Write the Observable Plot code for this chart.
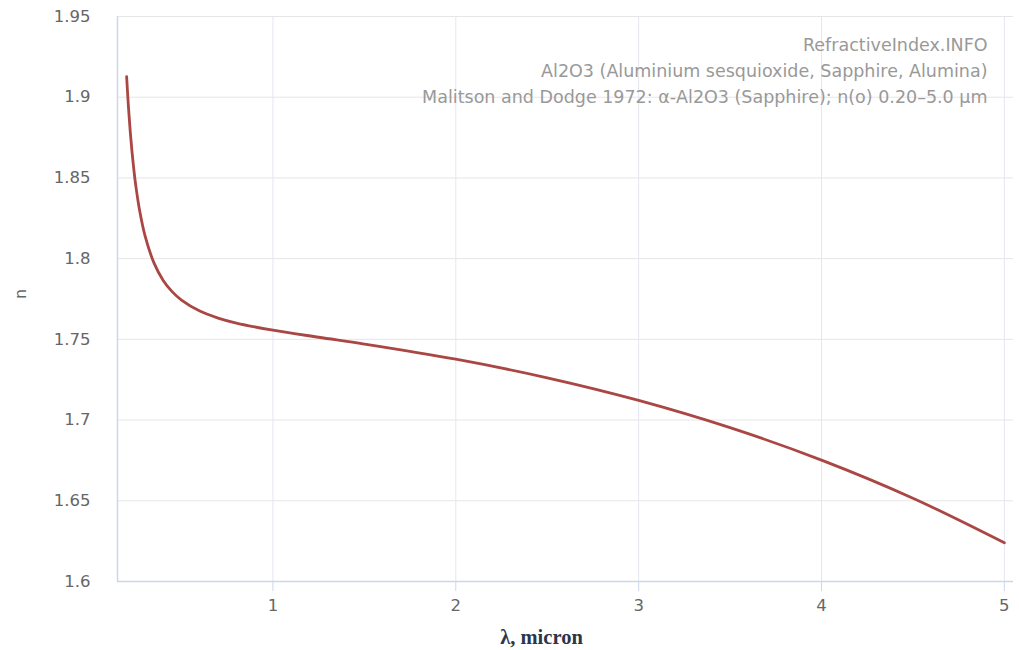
<!DOCTYPE html>
<html>
<head>
<meta charset="utf-8">
<script src="https://cdn.jsdelivr.net/npm/d3@7"></script>
<script src="https://cdn.jsdelivr.net/npm/@observablehq/plot@0.6"></script>
<style>
  html, body { margin: 0; padding: 0; background: #fff; }
  #chart svg { display: block; }
</style>
</head>
<body>
<div id="chart"></div>
<script>
// Ordinary refractive index of sapphire (α-Al2O3) versus wavelength
const wavelengths = [0.20, 0.21, 0.22, 0.23, 0.24, 0.25, 0.27, 0.30, 0.35, 0.40, 0.45, 0.50, 0.60, 0.70, 0.80,
                     1.00, 1.25, 1.50, 2.00, 2.50, 3.00, 3.50, 4.00, 4.50, 5.00];
const nValues = [1.9127, 1.8937, 1.8782, 1.8653, 1.8545, 1.8452, 1.8304, 1.8144, 1.7972, 1.7865, 1.7794, 1.7743, 1.7675, 1.7632, 1.7601,
                 1.7557, 1.7513, 1.7471, 1.7377, 1.7262, 1.7122, 1.6953, 1.6752, 1.6516, 1.6240];

const xDomain = [0.15, 5.05];
const yDomain = [1.6, 1.95];
const xTicks = [1, 2, 3, 4, 5];
const yTicks = [1.6, 1.65, 1.7, 1.75, 1.8, 1.85, 1.9, 1.95];
const yTickLabels = ["1.6", "1.65", "1.7", "1.75", "1.8", "1.85", "1.9", "1.95"];
const titleLines = [
  "RefractiveIndex.INFO",
  "Al2O3 (Aluminium sesquioxide, Sapphire, Alumina)",
  "Malitson and Dodge 1972: α-Al2O3 (Sapphire); n(o) 0.20–5.0 µm"
];
const xLabel = ["λ, micron"];
const yLabel = ["n"];

const data = wavelengths.map((w, i) => ({w, n: nValues[i]}));

const chart = Plot.plot({
  width: 1019,
  height: 650,
  marginLeft: 117,
  marginRight: 6,
  marginTop: 16,
  marginBottom: 69,
  style: {fontFamily: "DejaVu Sans", fontSize: "16px", background: "#fff"},
  x: {domain: xDomain},
  y: {domain: yDomain},
  marks: [
    Plot.gridY(yTicks, {stroke: "#e6e6e6", strokeOpacity: 1}),
    Plot.gridX(xTicks, {stroke: "#e3e7ef", strokeOpacity: 1}),
    Plot.ruleX([xDomain[0]], {stroke: "#ccd6eb", strokeWidth: 1.5}),
    Plot.ruleY([yDomain[0]], {stroke: "#ccd6eb", strokeWidth: 1.5}),
    Plot.axisX(xTicks, {
      tickSize: 10, tickPadding: 8, stroke: "#ccd6eb", fill: "#666",
      fontSize: 16.5, label: null, tickFormat: d => String(d)
    }),
    Plot.axisY(yTicks, {
      tickSize: 0, tickPadding: 27, fill: "#666", fontSize: 16.5, label: null,
      tickFormat: (d, i) => yTickLabels[i]
    }),
    Plot.line(data, {
      x: "w", y: "n", stroke: "#aa4643", strokeWidth: 2.8, curve: "catmull-rom"
    }),
    ...titleLines.map((t, i) => Plot.text([t], {
      text: d => d, frameAnchor: "top-right", dx: -26, dy: 29 + 26 * i,
      lineAnchor: "middle", textAnchor: "end", fill: "#999", fontSize: 17.5
    })),
    Plot.text(xLabel, {
      text: d => d, frameAnchor: "bottom", dx: -24, dy: 56, lineAnchor: "middle",
      fontFamily: "Liberation Serif", fontWeight: "bold", fontSize: 20.5, fill: "#2b3648"
    }),
    Plot.text(yLabel, {
      text: d => d, frameAnchor: "left", dx: -97, rotate: -90, lineAnchor: "middle",
      fill: "#666", fontSize: 16
    })
  ]
});

document.getElementById("chart").append(chart);
</script>
</body>
</html>
